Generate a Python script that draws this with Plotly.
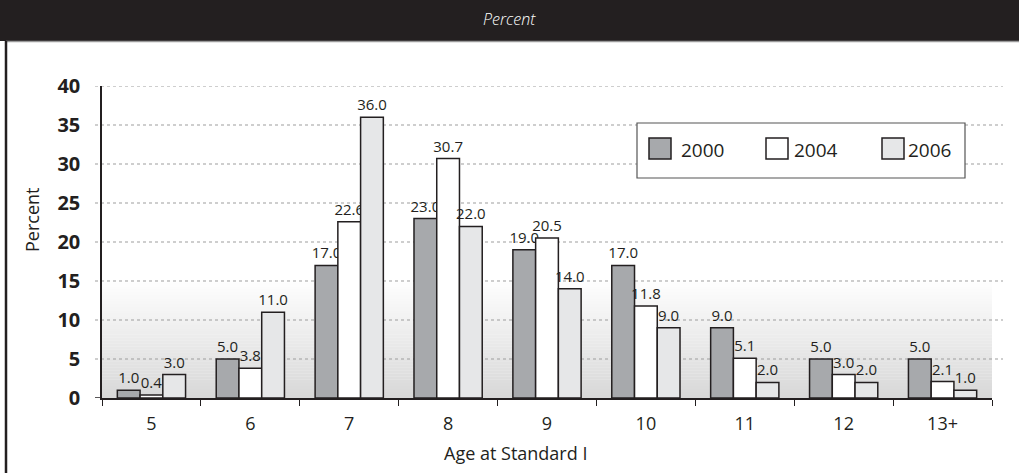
import plotly.graph_objects as go

# ---- data ----
categories = ["5", "6", "7", "8", "9", "10", "11", "12", "13+"]
series_names = ["2000", "2004", "2006"]
values_2000 = [1.0, 5.0, 17.0, 23.0, 19.0, 17.0, 9.0, 5.0, 5.0]
values_2004 = [0.4, 3.8, 22.6, 30.7, 20.5, 11.8, 5.1, 3.0, 2.1]
values_2006 = [3.0, 11.0, 36.0, 22.0, 14.0, 9.0, 2.0, 2.0, 1.0]
y_ticks = [0, 5, 10, 15, 20, 25, 30, 35, 40]

colors = ["#a7a9ac", "#ffffff", "#e6e7e8"]
outline = "#231f20"
FONT = "Open Sans"

W, H = 1019, 473
ML, MR, MT, MB = 102, 27, 86, 75
PW, PH = W - ML - MR, H - MT - MB


def px2x(px):
    return (px - ML) / PW


def px2y(py):
    return (H - MB - py) / PH


fig = go.Figure()
for name, vals, col in zip(series_names, [values_2000, values_2004, values_2006], colors):
    fig.add_trace(go.Bar(
        x=categories, y=vals, name=name,
        marker=dict(color=col, line=dict(color=outline, width=1.5)),
        text=[f"{v:.1f}" for v in vals], textposition="outside",
        textfont=dict(family=FONT, size=15, color=outline),
        constraintext="none", cliponaxis=False, showlegend=False,
        hoverinfo="skip",
    ))

shapes = []
# header band
shapes.append(dict(type="rect", xref="paper", yref="paper",
                   x0=px2x(0), x1=px2x(W), y0=px2y(41), y1=px2y(0),
                   fillcolor="#231f20", line=dict(width=0), layer="below"))
shapes.append(dict(type="line", xref="paper", yref="paper",
                   x0=px2x(6), x1=px2x(W), y0=px2y(41.5), y1=px2y(41.5),
                   line=dict(color="#9a9a9a", width=1.5)))
# left frame border
shapes.append(dict(type="line", xref="paper", yref="paper",
                   x0=px2x(6), x1=px2x(6), y0=px2y(41), y1=px2y(H),
                   line=dict(color="#231f20", width=2.5)))
# gradient in lower part of the plot area
N = 40
top_val = 15.5
for i in range(N):
    y0 = top_val * i / N
    y1 = top_val * (i + 1) / N + 0.05
    t = (i + 0.5) / N
    g = int(round(216 + (255 - 216) * t))
    shapes.append(dict(type="rect", xref="paper", yref="y",
                       x0=0, x1=1, y0=y0, y1=min(y1, top_val),
                       fillcolor=f"rgb({g},{g},{g})", line=dict(width=0), layer="below"))
# dotted gridlines extending past the plot edges
for v in y_ticks[1:]:
    shapes.append(dict(type="line", xref="paper", yref="y",
                       x0=px2x(95), x1=px2x(1003), y0=v, y1=v,
                       line=dict(color="#9d9d9d", width=1, dash="dot"), layer="below"))
# x-axis line extension to the left
shapes.append(dict(type="line", xref="paper", yref="y",
                   x0=px2x(95), x1=0, y0=0, y1=0,
                   line=dict(color=outline, width=1.5)))

# legend (drawn manually)
shapes.append(dict(type="rect", xref="paper", yref="paper",
                   x0=px2x(637), x1=px2x(965), y0=px2y(178), y1=px2y(123),
                   fillcolor="white", line=dict(color="#555555", width=1.2)))
annotations = []
sw_x = [649, 766, 882]
tx_x = [679, 792, 906]
for name, col, sx, tx in zip(series_names, colors, sw_x, tx_x):
    shapes.append(dict(type="rect", xref="paper", yref="paper",
                       x0=px2x(sx), x1=px2x(sx + 22), y0=px2y(159), y1=px2y(138),
                       fillcolor=col, line=dict(color=outline, width=1.5)))
    annotations.append(dict(xref="paper", yref="paper", x=px2x(tx), y=px2y(150),
                            text=name, showarrow=False, xanchor="left", yanchor="middle",
                            font=dict(family=FONT, size=19, color=outline)))

# header title
annotations.append(dict(xref="paper", yref="paper", x=px2x(W / 2), y=px2y(19),
                        text="<i>Percent</i>", showarrow=False,
                        xanchor="center", yanchor="middle",
                        font=dict(family=FONT, size=16, color="white", weight=300)))
# x axis title (centred on the page, as in the reference)
annotations.append(dict(xref="paper", yref="paper", x=px2x(515), y=px2y(453),
                        text="Age at Standard I", showarrow=False,
                        xanchor="center", yanchor="middle",
                        font=dict(family=FONT, size=18, color=outline)))
# y axis title
annotations.append(dict(xref="paper", yref="paper", x=px2x(32), y=px2y(220),
                        text="Percent", showarrow=False, textangle=-90,
                        xanchor="center", yanchor="middle",
                        font=dict(family=FONT, size=18, color=outline)))

fig.update_layout(
    width=W, height=H,
    margin=dict(l=ML, r=MR, t=MT, b=MB, pad=0),
    paper_bgcolor="white", plot_bgcolor="rgba(0,0,0,0)",
    barmode="group", bargap=0.31, bargroupgap=0,
    shapes=shapes, annotations=annotations, showlegend=False,
    font=dict(family=FONT, color=outline),
)
fig.update_xaxes(
    type="category", showgrid=False, showline=True, linecolor=outline, linewidth=1.5,
    ticks="outside", tickson="boundaries", ticklen=6, tickcolor=outline, tickwidth=1.2,
    ticklabelstandoff=9,
    tickfont=dict(family=FONT, size=18, color=outline),
    zeroline=False,
)
fig.update_yaxes(
    range=[0, 40], tickvals=y_ticks, showgrid=False, zeroline=False,
    showline=True, linecolor=outline, linewidth=1.5, ticks="",
    ticklabelstandoff=16,
    tickfont=dict(family=FONT, size=20, color=outline, weight="bold"),
)

fig.write_html("out.html", config={"displayModeBar": False},
               post_script="document.body.style.margin='0';document.body.style.overflow='hidden';")
